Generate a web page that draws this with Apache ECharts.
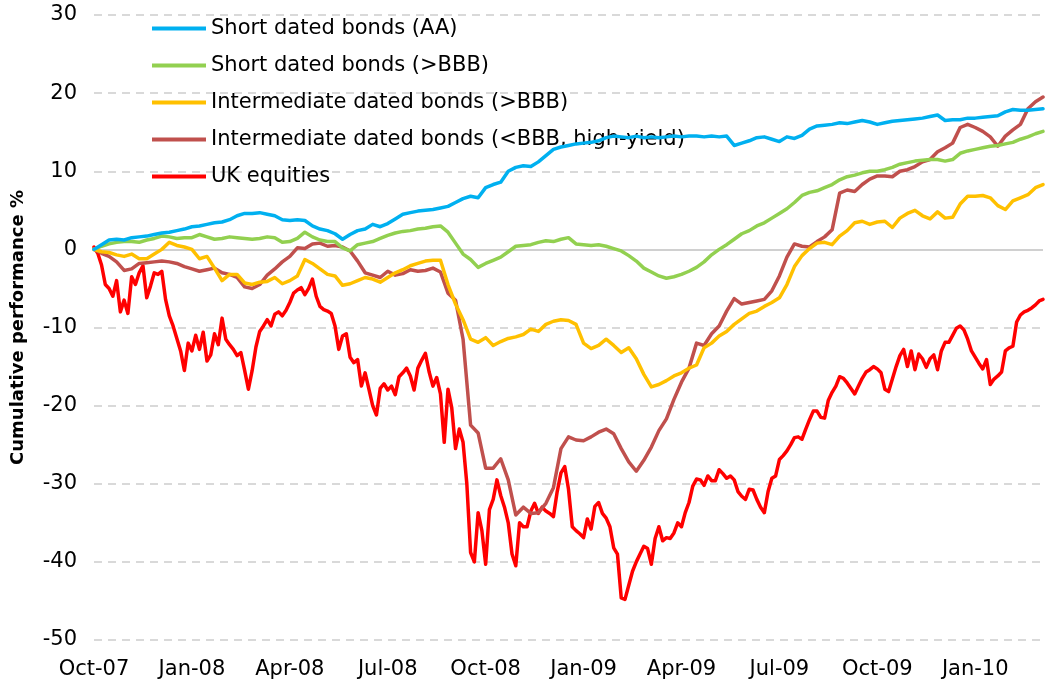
<!DOCTYPE html>
<html><head><meta charset="utf-8">
<script src="https://cdn.jsdelivr.net/npm/echarts@6/dist/echarts.min.js"></script>
<style>html,body{margin:0;padding:0;background:#fff}#c{width:1048px;height:684px}</style>
</head><body><div id="c"></div>
<script>
// x axis: weeks since 1 Oct 2007; one tick label per quarter (13 weeks)
const tickLabels = ['Oct-07','Jan-08','Apr-08','Jul-08','Oct-08','Jan-09','Apr-09','Jul-09','Oct-09','Jan-10'];
const weeksPerQuarter = 13;
const lastWeek = 126;

const seriesNames = ['Short dated bonds (AA)','Short dated bonds (>BBB)','Intermediate dated bonds (>BBB)','Intermediate dated bonds (<BBB, high-yield)','UK equities'];

// weekly cumulative performance (%)
const shortAA = [0,0.6,1.2,1.3,1.2,1.5,1.6,1.7,1.9,2.1,2.2,2.4,2.6,2.9,3.0,3.2,3.4,3.5,3.8,4.3,4.6,4.6,4.7,4.5,4.3,3.8,3.7,3.8,3.7,3.0,2.6,2.4,2.0,1.3,1.9,2.4,2.6,3.2,2.9,3.3,3.9,4.5,4.7,4.9,5.0,5.1,5.3,5.5,6.0,6.5,6.8,6.6,7.9,8.3,8.6,10.0,10.5,10.7,10.6,11.2,12.0,12.8,13.1,13.3,13.5,13.6,13.7,13.9,14.3,14.5,14.4,14.3,14.5,14.3,14.4,14.3,14.4,14.5,14.4,14.5,14.5,14.4,14.5,14.4,14.5,13.3,13.6,13.9,14.3,14.4,14.1,13.8,14.4,14.2,14.6,15.4,15.8,15.9,16.0,16.2,16.1,16.3,16.5,16.3,16.0,16.2,16.4,16.5,16.6,16.7,16.8,17.0,17.2,16.5,16.6,16.6,16.8,16.8,16.9,17.0,17.1,17.6,17.9,17.8,17.8,17.9,18.0];
const shortBBB = [0,0.4,0.7,0.9,1.0,1.0,0.9,1.2,1.4,1.7,1.6,1.4,1.5,1.5,1.9,1.6,1.3,1.4,1.6,1.5,1.4,1.3,1.4,1.6,1.5,0.9,1.0,1.4,2.2,1.6,1.2,1.0,1.0,0.2,-0.2,0.6,0.8,1.0,1.4,1.8,2.1,2.3,2.4,2.6,2.7,2.9,3.0,2.2,0.8,-0.6,-1.3,-2.3,-1.8,-1.4,-1.0,-0.3,0.4,0.5,0.6,0.9,1.1,1.0,1.3,1.5,0.7,0.6,0.5,0.6,0.4,0.1,-0.2,-0.8,-1.5,-2.4,-2.9,-3.4,-3.7,-3.5,-3.2,-2.8,-2.3,-1.6,-0.7,0.0,0.6,1.3,2.0,2.4,3.0,3.4,4.0,4.6,5.2,6.0,6.9,7.3,7.5,7.9,8.3,8.9,9.3,9.5,9.8,10.0,10.0,10.2,10.5,10.9,11.1,11.3,11.4,11.5,11.5,11.3,11.5,12.3,12.6,12.8,13.0,13.2,13.3,13.5,13.7,14.1,14.4,14.8,15.1];
const interBBB = [0,-0.3,-0.4,-0.7,-0.9,-0.6,-1.2,-1.2,-0.6,0.0,0.9,0.5,0.3,0.0,-1.2,-0.9,-2.4,-4.0,-3.2,-3.2,-4.3,-4.5,-4.2,-4.1,-3.6,-4.4,-4.0,-3.4,-1.3,-1.8,-2.5,-3.2,-3.4,-4.6,-4.4,-4.0,-3.6,-3.8,-4.2,-3.6,-3.0,-2.6,-2.1,-1.8,-1.5,-1.4,-1.4,-4.5,-7.0,-9.0,-11.5,-11.9,-11.3,-12.3,-11.8,-11.4,-11.2,-10.9,-10.2,-10.5,-9.6,-9.2,-9.0,-9.1,-9.6,-12.0,-12.7,-12.3,-11.5,-12.3,-13.2,-12.6,-14.0,-16.0,-17.6,-17.3,-16.8,-16.2,-15.8,-15.2,-14.8,-12.6,-12.0,-11.1,-10.5,-9.6,-8.9,-8.2,-7.9,-7.3,-6.8,-6.2,-4.5,-2.2,-0.8,0.1,0.8,0.9,0.6,1.7,2.4,3.4,3.6,3.2,3.5,3.6,2.8,4.0,4.6,5.0,4.3,3.9,4.8,4.0,4.1,5.8,6.8,6.8,6.9,6.6,5.6,5.1,6.2,6.6,7.0,7.9,8.3];
const interHY = [0,-0.5,-0.9,-1.6,-2.7,-2.5,-1.8,-1.7,-1.6,-1.5,-1.6,-1.8,-2.2,-2.5,-2.8,-2.6,-2.4,-3.0,-3.2,-3.6,-4.8,-5.0,-4.5,-3.3,-2.5,-1.6,-0.9,0.2,0.1,0.7,0.8,0.4,0.5,0.3,-0.2,-1.5,-3.0,-3.3,-3.6,-2.8,-3.3,-3.1,-2.6,-2.8,-2.7,-2.4,-2.9,-5.6,-6.5,-11.5,-22.5,-23.5,-28.0,-28.0,-26.8,-29.5,-34.0,-33.0,-33.8,-33.7,-32.5,-30.5,-25.5,-24.0,-24.4,-24.5,-24.0,-23.4,-23.0,-23.6,-25.5,-27.2,-28.4,-27.0,-25.3,-23.2,-21.7,-19.2,-17.0,-15.2,-12.0,-12.3,-10.8,-9.8,-7.9,-6.3,-7.0,-6.8,-6.6,-6.4,-5.3,-3.4,-1.0,0.7,0.4,0.3,1.0,1.6,2.5,7.2,7.6,7.4,8.3,9.0,9.4,9.4,9.3,10.0,10.2,10.6,11.2,11.5,12.5,13.0,13.6,15.6,16.0,15.6,15.1,14.4,13.2,14.5,15.3,16.0,18.0,18.9,19.5];
// half-weekly cumulative performance (%) for the more volatile equity index
const ukEquitiesStep = 0.5;
const ukEquities = [0.3,-0.5,-2.0,-4.5,-5.0,-6.0,-4.0,-8.0,-6.5,-8.2,-3.5,-4.5,-3.0,-2.1,-6.2,-4.7,-3.0,-3.2,-2.8,-6.4,
-8.5,-9.8,-11.4,-13.0,-15.5,-12.0,-13.0,-11.0,-12.8,-10.6,-14.3,-13.5,-10.8,-12.2,-8.8,-11.5,-12.2,-12.8,-13.6,-13.2,
-15.5,-17.9,-15.5,-12.5,-10.5,-9.8,-9.0,-9.8,-8.3,-8.0,-8.5,-7.8,-6.8,-5.6,-5.2,-4.9,-5.8,-5.0,-3.8,-6.0,
-7.3,-7.7,-7.9,-8.2,-9.8,-12.8,-11.1,-10.8,-13.8,-14.5,-14.1,-17.5,-15.8,-17.9,-20.0,-21.2,-17.8,-17.2,-18.0,-17.5,
-18.6,-16.3,-15.8,-15.2,-16.2,-18.0,-15.2,-14.2,-13.3,-15.7,-17.5,-16.4,-18.5,-24.7,-17.9,-20.3,-25.5,-23.0,-24.7,-30.0,
-38.8,-40.0,-33.7,-36.0,-40.3,-33.3,-32.0,-29.5,-31.5,-33.0,-35.0,-39.0,-40.5,-35.0,-35.5,-35.5,-33.5,-32.5,-33.8,-33.0,
-33.5,-33.8,-34.2,-31.0,-28.6,-27.8,-30.7,-35.5,-36.0,-36.4,-36.9,-34.5,-35.8,-32.9,-32.4,-33.8,-34.4,-35.5,-38.2,-39.0,
-44.6,-44.8,-43.0,-41.2,-40.0,-39.0,-38.0,-38.3,-40.3,-37.0,-35.5,-37.3,-36.9,-37.0,-36.3,-35.0,-35.5,-33.7,-32.4,-30.3,
-29.4,-29.5,-30.2,-29.0,-29.6,-29.6,-28.2,-28.7,-29.3,-29.0,-29.5,-31.0,-31.6,-32.0,-30.7,-30.8,-32.0,-33.0,-33.7,-31.0,
-29.3,-29.0,-26.9,-26.4,-25.8,-25.0,-24.1,-24.0,-24.3,-23.0,-21.8,-20.7,-20.7,-21.5,-21.6,-19.3,-18.3,-17.5,-16.3,-16.5,
-17.1,-17.8,-18.5,-17.5,-16.5,-15.7,-15.4,-15.0,-15.3,-15.8,-17.9,-18.2,-16.6,-15.0,-13.6,-12.8,-15.0,-13.0,-15.4,-13.4,
-14.0,-15.1,-14.0,-13.5,-15.4,-13.0,-11.9,-11.9,-11.0,-10.1,-9.8,-10.3,-11.5,-13.0,-13.8,-14.6,-15.3,-14.1,-17.3,-16.6,
-16.2,-15.7,-13.0,-12.6,-12.4,-9.3,-8.4,-8.0,-7.8,-7.5,-7.1,-6.6,-6.4];

const colors = ['#00B0F0','#92D050','#FFC000','#C0504D','#FF0000'];
const allValues = [shortAA, shortBBB, interBBB, interHY, ukEquities];
const steps = [1, 1, 1, 1, ukEquitiesStep];

const FONT = 'DejaVu Sans';
const series = allValues.map((vals, k) => ({
  name: seriesNames[k],
  type: 'line',
  symbol: 'none',
  data: vals.map((v, i) => [i * steps[k], v]),
  lineStyle: { width: 3.5, color: colors[k], join: 'round', cap: 'round' },
  itemStyle: { color: colors[k] },
  z: 10 - k,
  animation: false
}));
// zero line (category axis line in the original)
series[0].markLine = {
  silent: true, symbol: 'none', label: { show: false },
  lineStyle: { type: 'solid', color: '#D0D0D0', width: 2 },
  data: [{ yAxis: 0 }], animation: false
};

const chart = echarts.init(document.getElementById('c'), null, { renderer: 'canvas' });
chart.setOption({
  animation: false,
  backgroundColor: '#ffffff',
  textStyle: { fontFamily: FONT },
  grid: { left: 94, right: 5, top: 15, bottom: 44, containLabel: false },
  legend: {
    orient: 'vertical', left: 147, top: 13,
    icon: 'rect', itemWidth: 54, itemHeight: 4, itemGap: 16,
    textStyle: { fontFamily: FONT, fontSize: 21, color: '#000', lineHeight: 20.5 },
    data: seriesNames
  },
  xAxis: {
    type: 'value', min: 0, max: lastWeek, interval: weeksPerQuarter,
    axisLine: { show: false, onZero: false },
    axisTick: { show: false },
    splitLine: { show: false },
    axisLabel: {
      fontFamily: FONT, fontSize: 21, color: '#000', margin: 19, showMaxLabel: false,
      formatter: v => (v % weeksPerQuarter === 0 ? (tickLabels[v / weeksPerQuarter] || '') : '')
    }
  },
  yAxis: {
    type: 'value', min: -50, max: 30, interval: 10,
    name: 'Cumulative performance %', nameLocation: 'middle', nameGap: 67,
    nameTextStyle: { fontFamily: FONT, fontSize: 18, fontWeight: 'bold', color: '#000' },
    axisLine: { show: false }, axisTick: { show: false },
    axisLabel: { fontFamily: FONT, fontSize: 21, color: '#000', margin: 17 },
    splitLine: { lineStyle: { color: '#D9D9D9', type: [8, 6], width: 2 } }
  },
  series: series
});
</script></body></html>
